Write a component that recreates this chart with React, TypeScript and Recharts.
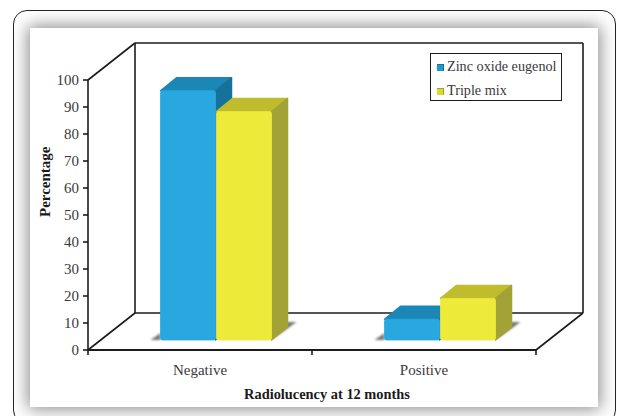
import React from 'react';
import { BarChart, Bar, XAxis, YAxis, Legend, Customized } from 'recharts';

const categories = ['Negative', 'Positive'];
const zincOxideEugenol = [92.3, 7.7];
const tripleMix = [84.6, 15.4];
const yTicks = [0, 10, 20, 30, 40, 50, 60, 70, 80, 90, 100];
const seriesNames = ['Zinc oxide eugenol', 'Triple mix'];

const rows = categories.map((category, i) => ({
  category,
  zinc: zincOxideEugenol[i],
  triple: tripleMix[i],
}));

const W = 617;
const H = 416;
const PLOT = { left: 88, right: 536, top: 80, bottom: 350 };
const WALL = { dx: 47, dy: 37 };
const FRONT = { dx: 15.5, dy: 10 };
const BAR = { dx: 16, dy: 13 };
const SERIF = '"Liberation Serif", "Times New Roman", serif';
const INK = '#1c1c1c';
const TEXT = '#3a3a3a';

const BLUE = { front: '#29a8e0', top: '#1a87b6', side: '#17729b' };
const YELLOW = { front: '#eeea3a', top: '#bfbd2d', side: '#a3a237' };

function Box3D(props: any) {
  const { x, y, width, height, palette, shadowSide } = props;
  const l = x + FRONT.dx;
  const r = l + width;
  const t = y - FRONT.dy;
  const b = t + height;
  const d = BAR;
  return (
    <g strokeLinejoin="round" strokeWidth={1.5}>
      {shadowSide === 'left' && (
        <polygon points={`${l - 10},${b} ${l},${b - 7} ${l},${b}`} fill="#777777" filter="url(#soft)" />
      )}
      {shadowSide === 'right' && (
        <polygon
          points={`${r},${b} ${r + d.dx + 9},${b - d.dy - 5} ${r + d.dx},${b - d.dy - 5}`}
          fill="#777777"
          filter="url(#soft)"
        />
      )}
      <polygon
        points={`${l},${t} ${l + d.dx},${t - d.dy} ${r + d.dx},${t - d.dy} ${r},${t}`}
        fill={palette.top}
        stroke={palette.top}
      />
      <polygon
        points={`${r},${t} ${r + d.dx},${t - d.dy} ${r + d.dx},${b - d.dy} ${r},${b}`}
        fill={palette.side}
        stroke={palette.side}
      />
      <rect x={l} y={t} width={width} height={height} rx={2} fill={palette.front} stroke={palette.front} strokeWidth={0.8} />
    </g>
  );
}

function Walls() {
  const { left, right, top, bottom } = PLOT;
  const { dx, dy } = WALL;
  const mid = (left + right) / 2;
  const lines = [
    [left, top, left + dx, top - dy],
    [left + dx, top - dy, right + dx, top - dy],
    [left + dx, top - dy, left + dx, bottom - dy],
    [right + dx, top - dy, right + dx, bottom - dy],
    [left + dx, bottom - dy, right + dx, bottom - dy],
    [left, bottom, left + dx, bottom - dy],
    [right, bottom, right + dx, bottom - dy],
    [left, bottom, left, bottom + 5],
    [mid, bottom, mid, bottom + 5],
    [right, bottom, right, bottom + 5],
  ];
  return (
    <g>
      <defs>
        <filter id="soft" x="-30%" y="-30%" width="160%" height="160%">
          <feGaussianBlur stdDeviation="1.2" />
        </filter>
      </defs>
      {lines.map((p, i) => (
        <line key={i} x1={p[0]} y1={p[1]} x2={p[2]} y2={p[3]} stroke={INK} strokeWidth={1.6} />
      ))}
    </g>
  );
}

function LegendBox() {
  const swatches = [
    { main: '#1f97cf', edge: '#17729b' },
    { main: '#dcd830', edge: '#a3a237' },
  ];
  return (
    <div
      style={{
        width: 130,
        height: 46,
        border: `1px solid ${INK}`,
        boxSizing: 'content-box',
        position: 'relative',
        fontFamily: SERIF,
        fontSize: 14.2,
        color: TEXT,
        background: '#fff',
      }}
    >
      {seriesNames.map((name, i) => (
        <div key={name} style={{ position: 'absolute', left: 6, top: 2 + i * 24, whiteSpace: 'nowrap', lineHeight: '20px' }}>
          <span
            style={{
              display: 'inline-block',
              width: 6,
              height: 6,
              marginRight: 3,
              background: swatches[i].main,
              borderTop: `1px solid ${swatches[i].edge}`,
              borderRight: `1px solid ${swatches[i].edge}`,
            }}
          />
          {name}
        </div>
      ))}
    </div>
  );
}

export default function App() {
  return (
    <div style={{ position: 'absolute', left: 0, top: 0, width: W, height: H, overflow: 'hidden', background: '#fff' }}>
      <div
        style={{
          position: 'absolute',
          left: 13,
          top: 10,
          width: 601,
          height: 412,
          border: '1.5px solid #222',
          borderRadius: 14,
        }}
      />
      <div
        style={{
          position: 'absolute',
          left: 30,
          top: 28,
          width: 568,
          height: 379,
          background: '#fff',
          boxShadow: '0 0 16px 2px #8a8a8a',
        }}
      />
      <div style={{ position: 'absolute', left: 0, top: 0 }}>
        <BarChart
          width={W}
          height={H}
          data={rows}
          barSize={55}
          barGap={1}
          margin={{ top: PLOT.top, right: W - PLOT.right, bottom: 0, left: 32 }}
        >
          <Customized component={Walls} />
          <XAxis
            dataKey="category"
            interval={0}
            axisLine={{ stroke: INK, strokeWidth: 2 }}
            tickLine={false}
            height={H - PLOT.bottom}
            tickMargin={8}
            tick={{ fontFamily: SERIF, fontSize: 15, fill: TEXT }}
            label={{
              value: 'Radiolucency at 12 months',
              position: 'insideBottom',
              offset: 17,
              dx: 15,
              style: { fontFamily: SERIF, fontSize: 14.4, fontWeight: 700, fill: '#1a1a1a' },
            }}
          />
          <YAxis
            width={PLOT.left - 32}
            domain={[0, 100]}
            ticks={yTicks}
            interval={0}
            axisLine={{ stroke: INK, strokeWidth: 1.6 }}
            tickLine={{ stroke: INK, strokeWidth: 1.6 }}
            tickSize={5}
            tickMargin={4}
            tick={{ fontFamily: SERIF, fontSize: 15, fill: TEXT }}
            label={{
              value: 'Percentage',
              angle: -90,
              position: 'insideLeft',
              offset: 13,
              dy: 2,
              style: { fontFamily: SERIF, fontSize: 15, fontWeight: 700, fill: '#1a1a1a' },
            }}
          />
          <Legend
            layout="horizontal"
            verticalAlign="middle"
            align="center"
            content={<LegendBox />}
            wrapperStyle={{ left: 430, top: 53, right: 'auto', bottom: 'auto', width: 132, height: 48 }}
          />
          <Bar
            dataKey="zinc"
            name={seriesNames[0]}
            isAnimationActive={false}
            fill={BLUE.front}
            shape={<Box3D palette={BLUE} shadowSide="left" />}
          />
          <Bar
            dataKey="triple"
            name={seriesNames[1]}
            isAnimationActive={false}
            fill={YELLOW.front}
            shape={<Box3D palette={YELLOW} shadowSide="right" />}
          />
        </BarChart>
      </div>
    </div>
  );
}
